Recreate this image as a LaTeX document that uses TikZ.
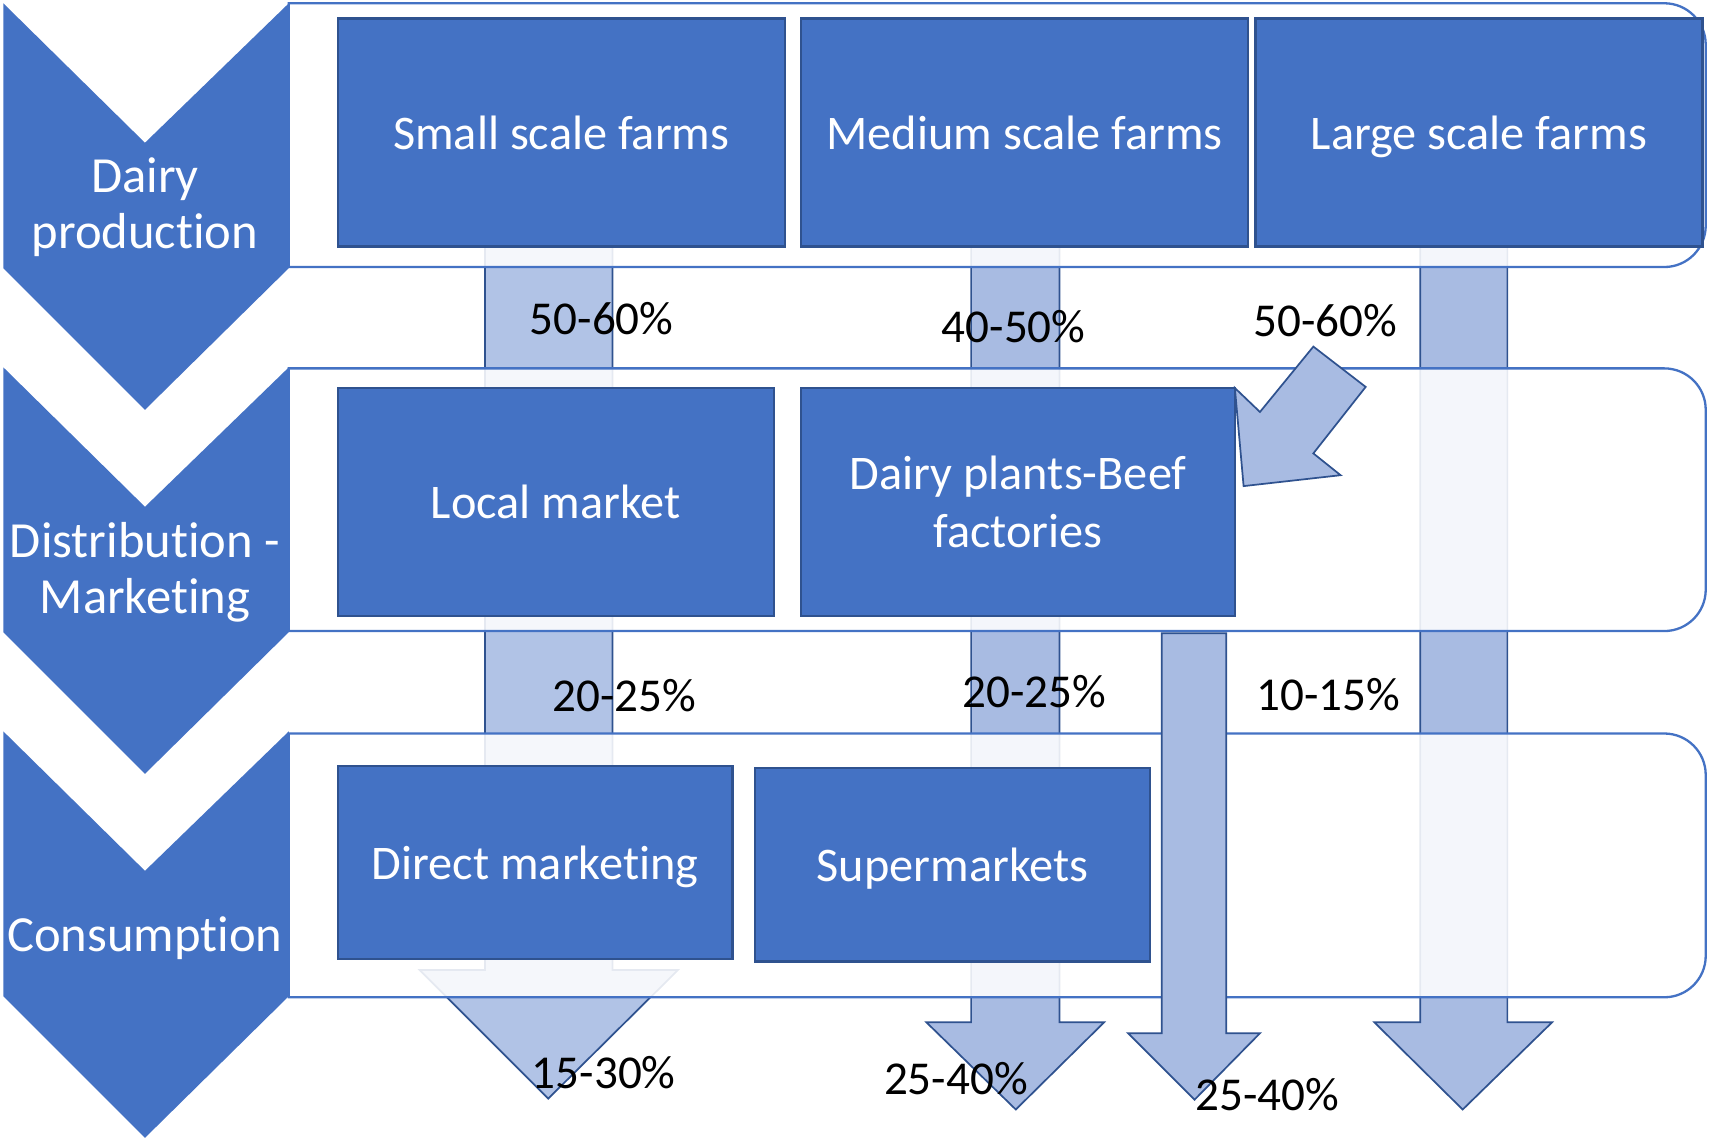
\documentclass[tikz,border=0pt]{standalone}
\usepackage{fontspec}
\setmainfont{Carlito}[Ligatures={NoCommon}]
\newcommand\brk{\kern0pt{}}
\definecolor{mainblue}{HTML}{4472C4}
\definecolor{boxline}{HTML}{2F528F}
\definecolor{arrowA}{HTML}{B1C3E6}
\definecolor{arrowB}{HTML}{A8BBE2}
\begin{document}
\begin{tikzpicture}[x=0.01cm,y=-0.01cm,
  boxstyle/.style={draw=boxline, line width=0.6pt, fill=mainblue, text=white,
    font=\fontsize{12.6}{15}\selectfont, align=center, inner sep=0pt},
  oneline/.style={text depth=0pt},
  rowlabel/.style={text=white, font=\fontsize{13.2}{14.4}\selectfont, align=center, inner sep=0pt},
  pct/.style={text=black, font=\fontsize{12.3}{14}\selectfont, inner sep=0pt},
  blockarrow/.style={draw=boxline, line width=0.45pt, line join=miter},
  container/.style={draw=mainblue, line width=0.6pt, fill=white, fill opacity=0.88},
  chevron/.style={fill=mainblue}
]
\useasboundingbox (0,0) rectangle (1568,1046);

% arrows behind containers
\path[blockarrow, fill=arrowA] (445,100) -- (562,100) -- (562,890) -- (622,890) -- (503,1008) -- (385,890) -- (445,890) -- cycle;
\path[blockarrow, fill=arrowB] (891,100) -- (972,100) -- (972,938) -- (1013,938) -- (932,1018) -- (850,938) -- (891,938) -- cycle;
\path[blockarrow, fill=arrowB] (1303,100) -- (1383,100) -- (1383,938) -- (1424,938) -- (1342,1018) -- (1261,938) -- (1303,938) -- cycle;

% containers
\foreach \t/\b in {3/245, 338/579, 673/915}{
  \path[container] (265,\t) -- (1527,\t) .. controls (1548,\t) and (1565,\t+17) .. (1565,\t+38)
     -- (1565,\b-38) .. controls (1565,\b-17) and (1548,\b) .. (1527,\b) -- (265,\b) -- cycle;
}

% chevrons
\foreach \y in {3, 337, 671}{
  \path[chevron] (3,\y) -- (133,\y+128) -- (265,\y) -- (265,\y+243) -- (133,\y+373) -- (3,\y+243) -- cycle;
}
\node[rowlabel] (rl1) at (133,190) {Dairy\\product\brk ion};
\node[rowlabel] (rl2) at (133,525) {Distribut\brk ion -\\Market\brk ing};
\node[rowlabel] (rl3) at (133,861) {Consumpt\brk ion};

% boxes
\node[boxstyle, oneline, minimum width=4.1cm, minimum height=2.09cm] (small) at (515,121.5) {Small scale farms};
\node[boxstyle, oneline, minimum width=4.1cm, minimum height=2.09cm] (medium) at (940,121.5) {Medium scale farms};
\node[boxstyle, oneline, minimum width=4.1cm, minimum height=2.09cm] (large) at (1357,121.5) {Large scale farms};
\node[boxstyle, oneline, minimum width=4.0cm, minimum height=2.09cm] (local) at (510,460.5) {Local market};
\node[boxstyle, minimum width=3.98cm, minimum height=2.09cm] (plants) at (934,460.5) {Dairy plants-Beef\\factories};
\node[boxstyle, oneline, minimum width=3.62cm, minimum height=1.77cm] (direct) at (491,791.5) {Direct market\brk ing};
\node[boxstyle, oneline, minimum width=3.62cm, minimum height=1.77cm] (super) at (874,793.5) {Supermarkets};

% arrows in front
\path[blockarrow, fill=arrowB] (1066,581) -- (1125,581) -- (1125,948) -- (1156,948) -- (1096,1009) -- (1035,948) -- (1066,948) -- cycle;
\path[blockarrow, fill=arrowB] (1205,318) -- (1253,355) -- (1205,416) -- (1230,436) -- (1141,446) -- (1133,356) -- (1156,378) -- cycle;

% percentages
\node[pct] (p1) at (552,292) {50-60\%};
\node[pct] (p2) at (930,300) {40-50\%};
\node[pct] (p3) at (1216,294) {50-60\%};
\node[pct] (p4) at (573,638) {20-25\%};
\node[pct] (p5) at (949,635) {20-25\%};
\node[pct] (p6) at (1219,637) {10-15\%};
\node[pct] (p7) at (554,984) {15-30\%};
\node[pct] (p8) at (877,990) {25-40\%};
\node[pct] (p9) at (1163,1004) {25-40\%};
\end{tikzpicture}
\end{document}
